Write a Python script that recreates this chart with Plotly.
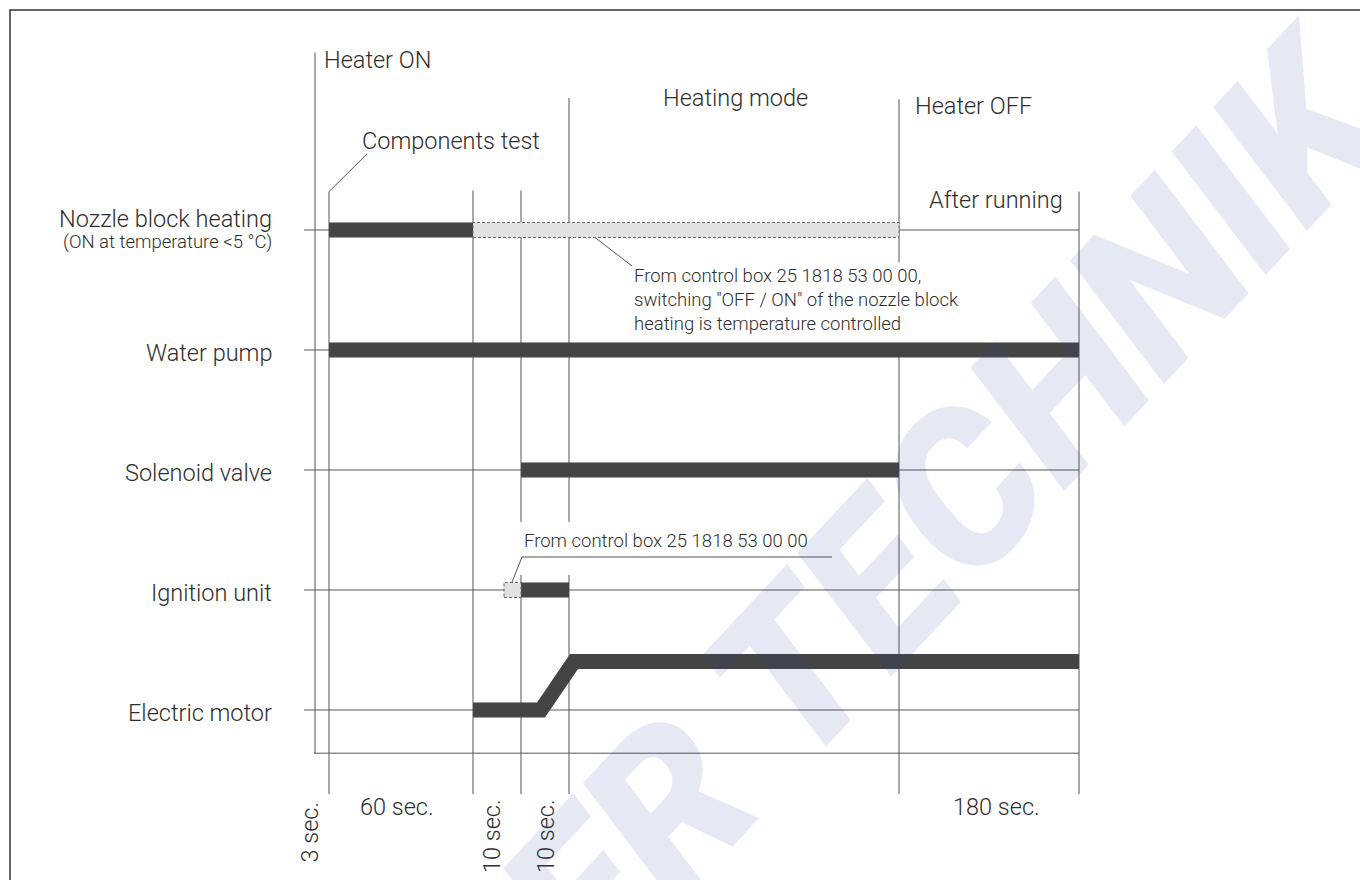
import plotly.graph_objects as go

# --- data (diagram units: schematic timeline, not to scale) ---------------
EVENT_NAMES = ["Heater ON", "Test start", "Test end", "Valve open", "Flame", "Heater OFF", "Run end"]
EVENT_X = [0, 14, 158, 206, 254, 584, 764]
LINE_TOP = [5.48, 4.32, 4.33, 4.33, 5.10, 5.09, 4.32]
LINE_BOTTOM = [-0.36, -0.70, -0.70, -0.70, -0.70, -0.70, -0.70]
LINE_GAPS = {3: (1.125, 1.567), 4: (1.125, 1.567), 5: (3.06, 3.73)}

ROWS = ["Nozzle block heating", "Water pump", "Solenoid valve", "Ignition unit", "Electric motor"]
ROW_LEVEL = [4, 3, 2, 1, 0]

# dark "ON" periods, start / end per row
ON_ROW = ["Nozzle block heating", "Water pump", "Solenoid valve", "Ignition unit"]
ON_START = [14, 14, 206, 206]
ON_END = [158, 764, 584, 254]

# light, dashed periods (controlled by control box)
CTRL_ROW = ["Nozzle block heating", "Ignition unit"]
CTRL_START = [158, 189]
CTRL_END = [584, 206]

# electric motor: low speed during test, full speed after flame
MOTOR_X = [158, 226, 259, 764]
MOTOR_LEVEL = [0, 0, 0.404, 0.404]

TIME_LABELS = ["3 sec.", "60 sec.", "10 sec.", "10 sec.", "180 sec."]

FONT = "Roboto, Liberation Sans, Arial, sans-serif"
TEXT = "#2e2e2e"
INK = "#444444"
THIN = "#555555"


def _x(px):
    return px - 315


def _y(py):
    return (710 - py) / 120


level = dict(zip(ROWS, ROW_LEVEL))
fig = go.Figure()

# row base lines
xs, ys = [], []
for r in ROWS:
    xs += [-11, EVENT_X[-1], None]
    ys += [level[r], level[r], None]
fig.add_trace(go.Scatter(x=xs, y=ys, mode="lines", line=dict(color=THIN, width=1), hoverinfo="skip"))

# vertical event lines
xs, ys = [], []
for i, ex in enumerate(EVENT_X):
    if i in LINE_GAPS:
        lo, hi = LINE_GAPS[i]
        xs += [ex, ex, None, ex, ex, None]
        ys += [LINE_TOP[i], hi, None, lo, LINE_BOTTOM[i], None]
    else:
        xs += [ex, ex, None]
        ys += [LINE_TOP[i], LINE_BOTTOM[i], None]
# bottom axis
xs += [-1, EVENT_X[-1], None]
ys += [LINE_BOTTOM[0], LINE_BOTTOM[0], None]
# leader lines
xs += [EVENT_X[1], _x(367), None, _x(593), _x(632), None, _x(832), _x(522), _x(512), None]
ys += [LINE_TOP[1], _y(154), None, _y(236), _y(266), None, _y(557), _y(557), _y(582), None]
fig.add_trace(go.Scatter(x=xs, y=ys, mode="lines", line=dict(color=THIN, width=1), hoverinfo="skip"))

# dashed (temperature / control box) periods
half = 7.5 / 120
for r, s, e in zip(CTRL_ROW, CTRL_START, CTRL_END):
    fig.add_shape(type="rect", x0=s, x1=e, y0=level[r] - half, y1=level[r] + half,
                  fillcolor="#e2e2e2", line=dict(color="#666666", width=1, dash="3px,2px"), layer="above")

# dark ON bars
for r, s, e in zip(ON_ROW, ON_START, ON_END):
    fig.add_trace(go.Scatter(x=[s, e], y=[level[r], level[r]], mode="lines",
                             line=dict(color=INK, width=15), hoverinfo="skip"))
fig.add_trace(go.Scatter(x=MOTOR_X, y=[level["Electric motor"] + v for v in MOTOR_LEVEL], mode="lines",
                         line=dict(color=INK, width=15), hoverinfo="skip"))

ann = []


def text(t, px, py, size=23.5, xanchor="left", yanchor="middle", angle=0):
    ann.append(dict(text=t, x=_x(px), y=_y(py), xanchor=xanchor, yanchor=yanchor, showarrow=False,
                    textangle=angle, align="left",
                    font=dict(family=FONT, size=size, color=TEXT, weight=300)))


for r in ROWS:
    shift = 11 if r == "Nozzle block heating" else -3
    text(r, 274, 710 - level[r] * 120 - shift, xanchor="right")
text("(ON at temperature &lt;5 °C)", 274, 242, size=18.5, xanchor="right")

text("Heater ON", 322, 60)
text("Components test", 360, 141)
text("Heating mode", 735, 98, xanchor="center")
text("Heater OFF", 913, 106)
text("After running", 1065, 200, xanchor="right")

text(TIME_LABELS[0], 309, 800, xanchor="center", yanchor="top", angle=-90)
text(TIME_LABELS[1], 358, 807)
text(TIME_LABELS[2], 492, 797, xanchor="center", yanchor="top", angle=-90)
text(TIME_LABELS[3], 546, 797, xanchor="center", yanchor="top", angle=-90)
text(TIME_LABELS[4], 996, 807, xanchor="center")

text('From control box 25 1818 53 00 00,<br>switching "OFF / ON" of the nozzle block<br>'
     'heating is temperature controlled', 632, 300, size=18.5)
text("From control box 25 1818 53 00 00", 522, 541, size=18.5)

# watermark
ann.append(dict(text="ER TECHNIK", x=_x(950), y=_y(505), xanchor="center", yanchor="middle",
                showarrow=False, textangle=-47,
                font=dict(family="Roboto, Liberation Sans, sans-serif", size=215,
                          color="rgba(40,70,160,0.12)", weight=900, style="italic")))

fig.update_layout(
    width=1360, height=880, autosize=False,
    margin=dict(l=0, r=0, t=0, b=0),
    paper_bgcolor="white", plot_bgcolor="white",
    showlegend=False,
    xaxis=dict(range=[-315, 1045], visible=False, fixedrange=True),
    yaxis=dict(range=[_y(880), _y(0)], visible=False, fixedrange=True),
    annotations=ann,
    shapes=list(fig.layout.shapes) + [
        dict(type="rect", xref="paper", yref="paper", x0=10 / 1360, x1=1.05, y0=-0.05, y1=1 - 10 / 880,
             line=dict(color="#333333", width=1.5), fillcolor="rgba(0,0,0,0)"),
    ],
)

fig.write_html("out.html", config={"displayModeBar": False},
               post_script="document.body.style.margin='0';")
